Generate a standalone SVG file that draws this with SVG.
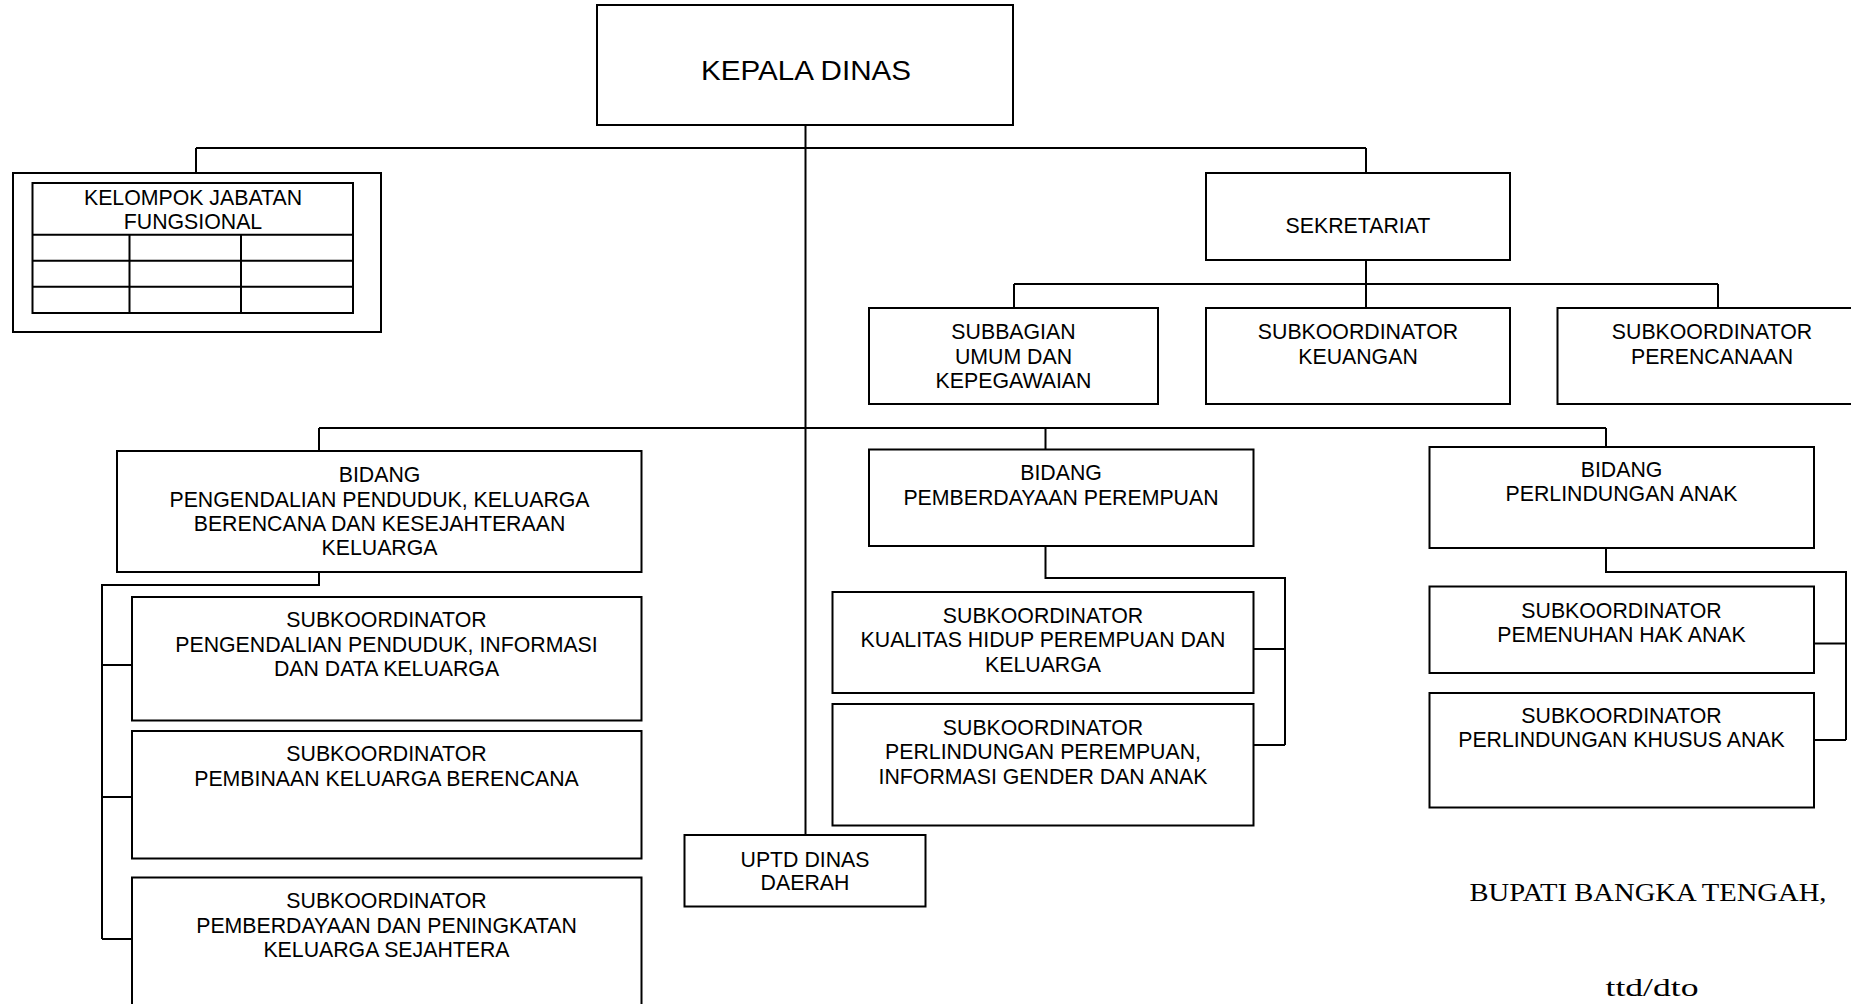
<svg xmlns="http://www.w3.org/2000/svg" width="1851" height="1004" viewBox="0 0 1851 1004">
<style>
.box{fill:#fff;stroke:#000;stroke-width:2}
.ln{fill:none;stroke:#000;stroke-width:2}
.t{font-family:"Liberation Sans",Arial,sans-serif;font-size:21.3px;text-anchor:middle;fill:#000}
.big{font-size:28px}
.sig{font-family:"Liberation Serif","Times New Roman",serif;font-size:26px;fill:#000}
</style>
<rect x="0" y="0" width="1851" height="1004" fill="#fff"/>
<g id="connectors">
<path class="ln" d="M805.5 125 V835"/>
<path class="ln" d="M196 148 H1366 M196 148 V173 M1366 148 V173"/>
<path class="ln" d="M1366 260 V284 M1014 284 H1718 M1014 284 V308 M1366 284 V308 M1718 284 V308"/>
<path class="ln" d="M319 428 H1606 M319 428 V451 M1045.5 428 V449.5 M1606 428 V447"/>
<path class="ln" d="M319 572 V585 H102 V939 M102 665 H132 M102 797 H132 M102 939 H132"/>
<path class="ln" d="M1045.5 546 V578 H1285 V745 M1253.5 649 H1285 M1253.5 745 H1285"/>
<path class="ln" d="M1606 548 V572 H1846 V740 M1814 643.5 H1846 M1814 740 H1846"/>
</g>
<g id="kepala-dinas">
<rect class="box" x="597" y="5" width="416" height="120"/>
<text class="t big" x="806" y="80" textLength="210" lengthAdjust="spacingAndGlyphs">KEPALA DINAS</text>
</g>
<g id="kelompok-jabatan-fungsional">
<rect class="box" x="13" y="173" width="368" height="159"/>
<rect class="box" x="32.5" y="183" width="320.5" height="130"/>
<path class="ln" d="M32.5 234.7 H353 M32.5 260.7 H353 M32.5 286.7 H353 M129.5 234.7 V313 M241 234.7 V313"/>
<text class="t" x="193" y="205">KELOMPOK JABATAN</text>
<text class="t" x="193" y="229">FUNGSIONAL</text>
</g>
<g id="sekretariat">
<rect class="box" x="1206" y="173" width="304" height="87"/>
<text class="t" x="1358" y="233">SEKRETARIAT</text>
</g>
<g id="subbagian-umum">
<rect class="box" x="869" y="308" width="289" height="96"/>
<text class="t" x="1013.5" y="339">SUBBAGIAN</text>
<text class="t" x="1013.5" y="363.5">UMUM DAN</text>
<text class="t" x="1013.5" y="387.5">KEPEGAWAIAN</text>
</g>
<g id="subkoordinator-keuangan">
<rect class="box" x="1206" y="308" width="304" height="96"/>
<text class="t" x="1358" y="339">SUBKOORDINATOR</text>
<text class="t" x="1358" y="363.5">KEUANGAN</text>
</g>
<g id="subkoordinator-perencanaan">
<rect class="box" x="1557.5" y="308" width="310" height="96"/>
<text class="t" x="1712" y="339">SUBKOORDINATOR</text>
<text class="t" x="1712" y="363.5">PERENCANAAN</text>
</g>
<g id="bidang-ppkb">
<rect class="box" x="117" y="451" width="524.5" height="121"/>
<text class="t" x="379.5" y="482">BIDANG</text>
<text class="t" x="379.5" y="506.5">PENGENDALIAN PENDUDUK, KELUARGA</text>
<text class="t" x="379.5" y="531">BERENCANA DAN KESEJAHTERAAN</text>
<text class="t" x="379.5" y="555">KELUARGA</text>
</g>
<g id="sub-pengendalian-penduduk">
<rect class="box" x="132" y="597" width="509.5" height="123.5"/>
<text class="t" x="386.5" y="627">SUBKOORDINATOR</text>
<text class="t" x="386.5" y="651.5">PENGENDALIAN PENDUDUK, INFORMASI</text>
<text class="t" x="386.5" y="676">DAN DATA KELUARGA</text>
</g>
<g id="sub-pembinaan-kb">
<rect class="box" x="132" y="731" width="509.5" height="127.5"/>
<text class="t" x="386.5" y="761">SUBKOORDINATOR</text>
<text class="t" x="386.5" y="785.5">PEMBINAAN KELUARGA BERENCANA</text>
</g>
<g id="sub-pemberdayaan-ks">
<rect class="box" x="132" y="877.5" width="509.5" height="140"/>
<text class="t" x="386.5" y="908">SUBKOORDINATOR</text>
<text class="t" x="386.5" y="932.5">PEMBERDAYAAN DAN PENINGKATAN</text>
<text class="t" x="386.5" y="957">KELUARGA SEJAHTERA</text>
</g>
<g id="uptd">
<rect class="box" x="684.5" y="835" width="241" height="71.5"/>
<text class="t" x="805" y="866.5">UPTD DINAS</text>
<text class="t" x="805" y="890">DAERAH</text>
</g>
<g id="bidang-pemberdayaan-perempuan">
<rect class="box" x="869" y="449.5" width="384.5" height="96.5"/>
<text class="t" x="1061" y="480">BIDANG</text>
<text class="t" x="1061" y="504.5">PEMBERDAYAAN PEREMPUAN</text>
</g>
<g id="sub-kualitas-hidup">
<rect class="box" x="832.5" y="592" width="421" height="101"/>
<text class="t" x="1043" y="622.5">SUBKOORDINATOR</text>
<text class="t" x="1043" y="647">KUALITAS HIDUP PEREMPUAN DAN</text>
<text class="t" x="1043" y="671.5">KELUARGA</text>
</g>
<g id="sub-perlindungan-perempuan">
<rect class="box" x="832.5" y="704" width="421" height="121.5"/>
<text class="t" x="1043" y="734.5">SUBKOORDINATOR</text>
<text class="t" x="1043" y="759">PERLINDUNGAN PEREMPUAN,</text>
<text class="t" x="1043" y="783.5">INFORMASI GENDER DAN ANAK</text>
</g>
<g id="bidang-perlindungan-anak">
<rect class="box" x="1429.5" y="447" width="384.5" height="101"/>
<text class="t" x="1621.5" y="477">BIDANG</text>
<text class="t" x="1621.5" y="501">PERLINDUNGAN ANAK</text>
</g>
<g id="sub-pemenuhan-hak-anak">
<rect class="box" x="1429.5" y="586.5" width="384.5" height="86.5"/>
<text class="t" x="1621.5" y="617.5">SUBKOORDINATOR</text>
<text class="t" x="1621.5" y="641.5">PEMENUHAN HAK ANAK</text>
</g>
<g id="sub-perlindungan-khusus-anak">
<rect class="box" x="1429.5" y="693" width="384.5" height="114.5"/>
<text class="t" x="1621.5" y="723">SUBKOORDINATOR</text>
<text class="t" x="1621.5" y="747">PERLINDUNGAN KHUSUS ANAK</text>
</g>
<g id="signature">
<text class="sig" x="1469.5" y="901" textLength="357" lengthAdjust="spacingAndGlyphs">BUPATI BANGKA TENGAH,</text>
<text class="sig" x="1605.5" y="996" textLength="93" lengthAdjust="spacingAndGlyphs">ttd/dto</text>
</g>
</svg>
